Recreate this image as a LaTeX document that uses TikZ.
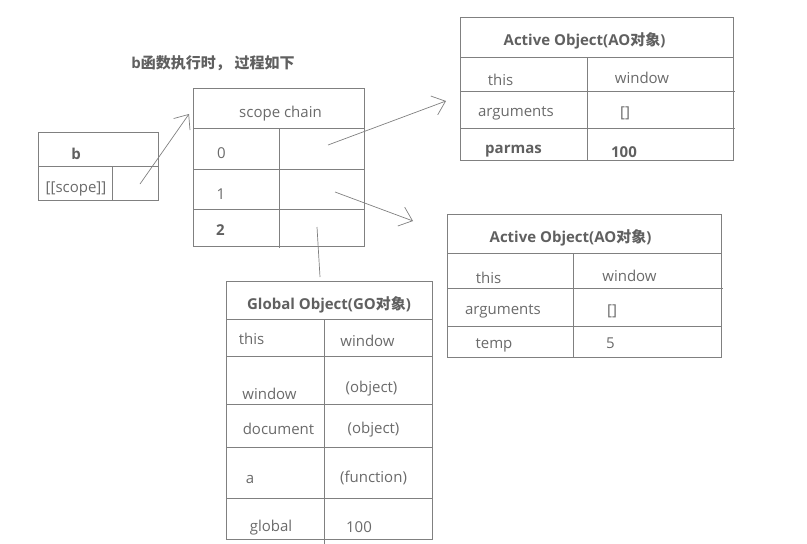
\documentclass[tikz,border=0pt]{standalone}
\usepackage{fontspec}
\setmainfont{Open Sans}
\newfontfamily\cjk{Noto Sans CJK SC}
\usetikzlibrary{arrows.meta}
\definecolor{ln}{HTML}{808080}
\definecolor{tx}{HTML}{6A6A6A}
\definecolor{hx}{HTML}{606060}
\begin{document}
\begin{tikzpicture}[x=1pt,y=-1pt,
  grid/.style={draw=ln, line width=1pt},
  lbl/.style={text=tx, font=\fontsize{15}{17}\selectfont, inner sep=0pt, yshift=-2.5pt},
  hd/.style={text=hx, font=\fontsize{15}{17}\selectfont\bfseries, inner sep=0pt, yshift=-2pt},
  conn/.style={draw=ln, line width=0.7pt, -{Straight Barb[length=12pt,width=20pt,line width=0.7pt]}},
  plain/.style={draw=ln, line width=0.7pt}]
\useasboundingbox (0,0) rectangle (807,544);

% title
\node[hd] (title) at (213,61) {b{\cjk 函数执行时，}\ {\cjk 过程如下}};

% b box
\draw[grid] (38,132) rectangle (158,200);
\draw[grid] (38,166) -- (158,166) (112,166) -- (112,200);
\node[hd] (bname) at (76,152) {b};
\node[lbl] (bscope) at (76,186) {[[scope]]};

% scope chain box
\draw[grid] (193,88) rectangle (364,246);
\draw[grid] (193,128) -- (364,128) (193,169) -- (364,169) (193,209) -- (364,209)
  (279,128) -- (279,248);
\node[lbl] (sc) at (280.5,111) {scope chain};
\node[lbl] (s0) at (221.5,150.5) {0};
\node[lbl] (s1) at (221,192) {1};
\node[hd] (s2) at (220.5,228) {2};

% AO1
\draw[grid] (460,17) rectangle (733,160);
\draw[grid] (460,57) -- (733,57) (460,91) -- (735,91) (460,128) -- (735,128) (587,57) -- (587,160);
\node[hd] (ao1h) at (584.5,39) {Active Object(AO{\cjk 对象})};
\node[lbl] (ao1a) at (500.5,77) {this};
\node[lbl] (ao1b) at (642,75) {window};
\node[lbl] (ao1c) at (516,111) {arguments};
\node[lbl] (ao1d) at (625,111) {[]};
\node[hd] (ao1e) at (513.5,149.5) {parmas};
\node[hd] (ao1f) at (624,150) {100};

% AO2
\draw[grid] (447,214) rectangle (721,357);
\draw[grid] (447,253) -- (721,253) (447,288) -- (723,288) (447,326) -- (721,326) (573,253) -- (573,357);
\node[hd] (ao2h) at (570.5,236) {Active Object(AO{\cjk 对象})};
\node[lbl] (ao2a) at (488.5,275) {this};
\node[lbl] (ao2b) at (629.5,273) {window};
\node[lbl] (ao2c) at (503,309) {arguments};
\node[lbl] (ao2d) at (612,309) {[]};
\node[lbl] (ao2e) at (494,343) {temp};
\node[lbl] (ao2f) at (610.5,340.5) {5};

% GO
\draw[grid] (226,281) rectangle (432,539);
\draw[grid] (226,319) -- (432,319) (226,356) -- (432,356) (226,404) -- (432,404)
  (226,447) -- (432,447) (226,498) -- (432,498) (324,319) -- (324,544);
\node[hd] (goh) at (329,303) {Global Object(GO{\cjk 对象})};
\node[lbl] (go1) at (251.5,336) {this};
\node[lbl] (go2) at (367.5,338.5) {window};
\node[lbl] (go3) at (269.5,391) {window};
\node[lbl] (go4) at (371.5,386) {(object)};
\node[lbl] (go5) at (278.5,426.5) {document};
\node[lbl] (go6) at (373.5,427.5) {(object)};
\node[lbl] (go7) at (250,477) {a};
\node[lbl] (go8) at (373.5,475.5) {(function)};
\node[lbl] (go9) at (271,525) {global};
\node[lbl] (go10) at (359,524.5) {100};

% connectors
\coordinate (c1s) at (140,184);
\coordinate (c1e) at (189,114);
\coordinate (c2s) at (328,145);
\coordinate (c2e) at (446,101);
\coordinate (c3s) at (335,192);
\coordinate (c3e) at (413,221);
\coordinate (c4s) at (317,227);
\coordinate (c4e) at (320,277);
\draw[conn] (c1s) -- (c1e);
\draw[conn] (c2s) -- (c2e);
\draw[conn] (c3s) -- (c3e);
\draw[plain] (c4s) -- (c4e);
\end{tikzpicture}
\end{document}
